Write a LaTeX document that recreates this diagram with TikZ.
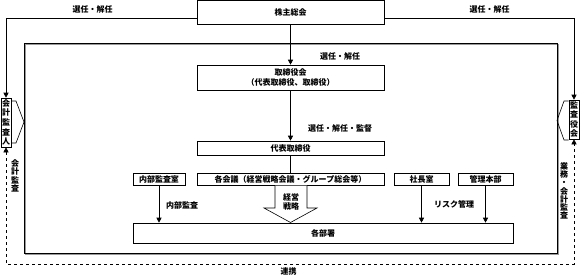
\documentclass[tikz,border=0pt]{standalone}
\usepackage{fontspec}
\setmainfont{Noto Sans CJK JP}
\usetikzlibrary{arrows.meta,shadows}
\begin{document}
\begin{tikzpicture}[x=1pt,y=-1pt,
  font=\fontsize{8}{9.5}\selectfont\bfseries,
  box/.style={draw, fill=white, inner sep=0pt, line width=0.6pt,
    general shadow={fill=black!40, shadow xshift=1pt, shadow yshift=-1pt}},
  vbox/.style={box, align=center, font=\fontsize{8}{9.6}\selectfont\bfseries},
  arr/.style={-{Triangle[length=5pt,width=5pt]}, line width=0.6pt},
  ln/.style={line width=0.6pt},
  lbl/.style={inner sep=0pt},
  vlbl/.style={inner sep=0pt, align=center, font=\fontsize{8}{8.2}\selectfont\bfseries}]
\useasboundingbox (0,0) rectangle (582,276);

% outer frame
\draw[ln, general shadow={draw=black!40, shadow xshift=1pt, shadow yshift=-1pt}] (24,43) rectangle (557,253);

% boxes
\node[box, minimum width=187pt, minimum height=23.5pt] (kabu) at (290.5,12.5) {株主総会};
\node[box, minimum width=187pt, minimum height=25pt, align=center] (tori) at (290.5,77.5) {取締役会\\（代表取締役、取締役）};
\node[box, minimum width=187pt, minimum height=14pt] (daihyo) at (290.5,148) {代表取締役};
\node[box, minimum width=187pt, minimum height=12pt] (kaigi) at (290.5,179) {各会議（経営戦略会議・グループ総会等）};
\node[box, minimum width=52pt, minimum height=12pt] (naibu) at (159,179) {内部監査室};
\node[box, minimum width=55pt, minimum height=12pt] (shacho) at (421.5,179) {社長室};
\node[box, minimum width=55pt, minimum height=12pt] (kanri) at (485.5,179) {管理本部};
\node[box, minimum width=380pt, minimum height=20pt] (busho) at (323,233) {各部署};
\node[vbox, minimum width=10pt, minimum height=49pt] (kaikei) at (6,122.5) {会\\計\\監\\査\\人};
\node[vbox, minimum width=10pt, minimum height=39pt] (kansa) at (574,119.5) {監\\査\\役\\会};

% connectors
\coordinate (kl) at (6,18);
\coordinate (kr) at (574,18);
\draw[arr] ([yshift=-5.5pt]kabu.west) -- (kl) -- (kaikei.north);
\draw[arr] ([yshift=-5.5pt]kabu.east) -- (kr) -- (kansa.north);
\draw[arr] (kabu) -- (tori);
\draw[arr] (tori) -- (daihyo);
\draw[ln] (daihyo) -- (kaigi);
\draw[arr] (naibu) -- (naibu |- busho.north);
\draw[arr] (shacho) -- (shacho |- busho.north);
\draw[arr] (kanri) -- (kanri |- busho.north);

% dashed link
\coordinate (dl) at (6,264);
\coordinate (dr) at (574,264);
\draw[ln, dashed, {Triangle[length=5pt,width=5pt]}-{Triangle[length=5pt,width=5pt]}] (kaikei.south) -- (dl) -- (dr) -- (kansa.south);

% chevrons
\draw[ln] (kaikei.east |- 0,101) -- (16,101) -- (24,122) -- (16,143) -- (kaikei.east |- 0,143);
\draw[ln] (kansa.west |- 0,101) -- (564,101) -- (557,120.5) -- (564,140) -- (kansa.west |- 0,140);

% block arrow
\draw[ln, fill=white] (275,185.5) -- (275,208) -- (264,208) -- (290.5,222.5) -- (317,208) -- (307,208) -- (307,185.5);
\node[lbl, align=center, font=\fontsize{8}{9.5}\selectfont\bfseries] (senryaku) at (291,202) {経営\\戦略};

% labels
\node[lbl] (l1) at (92.5,9) {選任・解任};
\node[lbl] (l2) at (489.5,9) {選任・解任};
\node[lbl] (l3) at (340,56) {選任・解任};
\node[lbl] (l4) at (340,128) {選任・解任・監督};
\node[lbl] (l5) at (182,205) {内部監査};
\node[lbl] (l6) at (454,204) {リスク管理};
\node[lbl] (l7) at (288.5,271) {連携};
\node[vlbl] (l8) at (15,176) {会\\計\\監\\査};
\node[vlbl] (l9) at (564,191) {業\\務\\・\\会\\計\\監\\査};
\end{tikzpicture}
\end{document}
